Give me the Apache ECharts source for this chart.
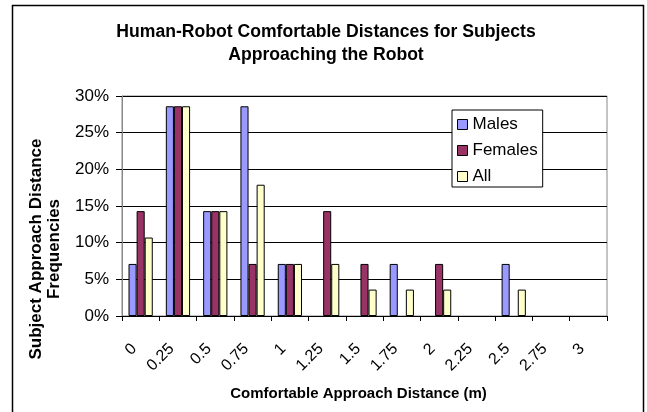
<!DOCTYPE html>
<html>
<head>
<meta charset="utf-8">
<script src="https://cdn.jsdelivr.net/npm/echarts@6/dist/echarts.min.js"></script>
<style>
  html, body { margin: 0; padding: 0; background: #fff; }
  #main { width: 647px; height: 412px; }
</style>
</head>
<body>
<div id="main"></div>
<script type="text/javascript">
    // distance categories (m)
    var distances = ['0', '0.25', '0.5', '0.75', '1', '1.25', '1.5', '1.75', '2', '2.25', '2.5', '2.75', '3'];
    // frequencies in %
    var males   = [7.1, 28.6, 14.3, 28.6, 7.1, 0, 0, 7.1, 0, 0, 7.1, 0, 0];
    var females = [14.3, 28.6, 14.3, 7.1, 7.1, 14.3, 7.1, 0, 7.1, 0, 0, 0, 0];
    var all     = [10.7, 28.6, 14.3, 17.9, 7.1, 7.1, 3.6, 3.6, 3.6, 0, 3.6, 0, 0];
    var yTicks  = [0, 5, 10, 15, 20, 25, 30];

    var myChart = echarts.init(document.getElementById('main'));

    var font = 'Liberation Sans, Arial, sans-serif';

    function bar(name, data, color) {
        return {
            name: name,
            type: 'bar',
            // zero bars are not drawn (no flat border line)
            data: data.map(function (v) { return v === 0 ? '-' : v; }),
            barGap: '0%',
            barCategoryGap: '35%',
            itemStyle: { color: color, borderColor: '#000', borderWidth: 1 }
        };
    }

    option = {
        animation: false,
        backgroundColor: '#fff',
        title: {
            text: 'Human-Robot Comfortable Distances for Subjects\nApproaching the Robot',
            left: 321,
            textAlign: 'center',
            top: 16,
            textStyle: { fontFamily: font, fontSize: 17.6, fontWeight: 'bold', color: '#000', lineHeight: 23 }
        },
        legend: {
            orient: 'vertical',
            left: 452,
            top: 110,
            padding: [6, 5, 2, 5],
            itemGap: 9,
            itemWidth: 10,
            itemHeight: 10,
            borderColor: '#000',
            borderWidth: 1,
            backgroundColor: '#fff',
            icon: 'rect',
            itemStyle: { borderColor: '#000', borderWidth: 1 },
            textStyle: { fontFamily: font, fontSize: 17, color: '#000' },
            data: ['Males', 'Females', 'All']
        },
        grid: { left: 122, right: 40, top: 96, bottom: 96, show: true, borderColor: '#888', borderWidth: 1 },
        graphic: [{
            type: 'rect',
            shape: { x: 12.5, y: 5.5, width: 631, height: 420 },
            style: { fill: 'none', stroke: '#000', lineWidth: 1.5 },
            silent: true
        }],
        xAxis: {
            type: 'category',
            data: distances,
            name: 'Comfortable Approach Distance (m)',
            nameLocation: 'middle',
            nameGap: 70,
            nameTextStyle: { fontFamily: font, fontSize: 15, fontWeight: 'bold', color: '#000', padding: [0, 12, 0, 0] },
            axisLine: { lineStyle: { color: '#000', width: 1 } },
            axisTick: { show: true, length: 5, lineStyle: { color: '#000' } },
            axisLabel: { rotate: 45, margin: 24, padding: [0, 9, 18, 0], fontFamily: font, fontSize: 16, color: '#000' }
        },
        yAxis: {
            type: 'value',
            min: yTicks[0],
            max: yTicks[yTicks.length - 1],
            interval: 5,
            name: 'Subject Approach Distance\nFrequencies',
            nameLocation: 'middle',
            nameRotate: 90,
            nameGap: 58,
            nameTextStyle: { fontFamily: font, fontSize: 17, fontWeight: 'bold', color: '#000', lineHeight: 18.5, padding: [0, 86, 0, 0] },
            axisLine: { show: true, lineStyle: { color: '#888', width: 1 } },
            axisTick: { show: true, length: 6, lineStyle: { color: '#000' } },
            axisLabel: { margin: 13, fontFamily: font, fontSize: 17, color: '#000', formatter: '{value}%' },
            splitLine: { lineStyle: { color: '#000', width: 1 } }
        },
        series: [
            bar('Males', males, '#9999FF'),
            bar('Females', females, '#993366'),
            bar('All', all, '#FFFFCC')
        ]
    };

    myChart.setOption(option);
</script>
</body>
</html>
